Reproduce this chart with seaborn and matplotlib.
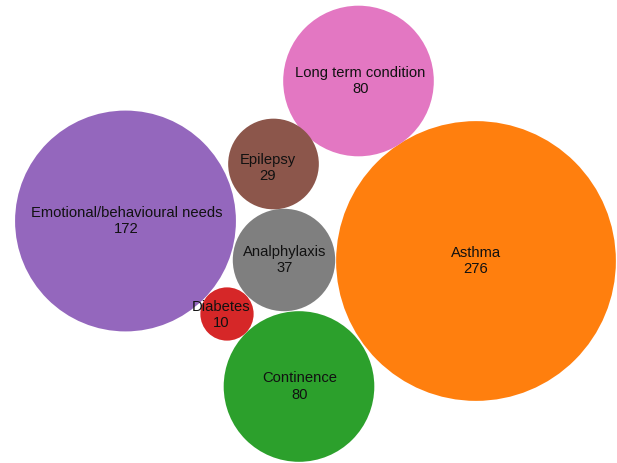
import numpy as np
import pandas as pd
import matplotlib
matplotlib.use('Agg')
import matplotlib.pyplot as plt
import seaborn as sns

### Data ###
categories = ['Asthma', 'Emotional/behavioural needs', 'Long term condition',
              'Continence', 'Analphylaxis', 'Epilepsy', 'Diabetes']
counts = [276, 172, 80, 80, 37, 29, 10]
colors = ['#ff7f0e', '#9467bd', '#e377c2', '#2ca02c', '#7f7f7f', '#8c564b', '#d62728']

# bubble centres from the packing layout (pixel space, y down)
center_x = [476, 125.5, 358.5, 299, 284, 273.5, 227]
center_y = [261, 221, 81, 386.5, 260, 164, 314]
# small nudges of the labels inside some bubbles
label_dx = [0, 1, 2, 1, 1, -6, -6]
label_dy = [0, 0, 0, 0, 0, 4, 1]

df = pd.DataFrame({'name': categories, 'count': counts, 'x': center_x, 'y': center_y})

W, H, DPI = 617, 463, 100
k = 8.42  # radius in px per sqrt(count)

sns.set_theme(style='white')
plt.rcParams['font.family'] = ['Liberation Sans', 'DejaVu Sans']

fig = plt.figure(figsize=(W / DPI, H / DPI), dpi=DPI)
ax = fig.add_axes([0, 0, 1, 1])

# marker area in pt^2: diameter = 2*r px = 2*r*72/DPI pt
smax = (2 * k * np.sqrt(max(counts)) * 72 / DPI) ** 2
sns.scatterplot(data=df, x='x', y='y', hue='name', size='count',
                palette=dict(zip(categories, colors)),
                sizes=(0, smax), size_norm=(0, max(counts)),
                linewidth=0, alpha=1, legend=False, ax=ax)

for i, row in df.iterrows():
    ax.text(row['x'] + label_dx[i], row['y'] + label_dy[i],
            f"{row['name']}\n{row['count']}", ha='center', va='center',
            fontsize=10.6, color='#111111', linespacing=1.2)

ax.set_xlim(0, W)
ax.set_ylim(H, 0)
ax.set_axis_off()

fig.savefig('out.png', dpi=DPI)
